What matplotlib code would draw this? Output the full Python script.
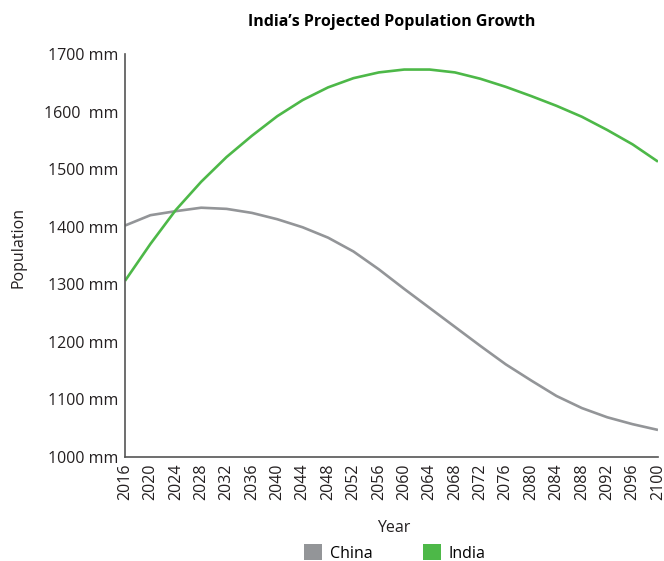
import matplotlib
matplotlib.use("Agg")
import matplotlib.pyplot as plt
from matplotlib.patches import Patch

plt.rcParams['font.family'] = ['Open Sans', 'DejaVu Sans']

years = [2016, 2020, 2024, 2028, 2032, 2036, 2040, 2044, 2048, 2052, 2056,
         2060, 2064, 2068, 2072, 2076, 2080, 2084, 2088, 2092, 2096, 2100]
china = [1402, 1420, 1427, 1433, 1431, 1424, 1413, 1399, 1381, 1357, 1326,
         1292, 1259, 1226, 1193, 1161, 1133, 1106, 1085, 1069, 1057, 1047]
india = [1306, 1370, 1429, 1478, 1521, 1558, 1592, 1620, 1642, 1658, 1668,
         1673, 1673, 1668, 1657, 1643, 1627, 1610, 1591, 1568, 1543, 1513]
ytick_vals = [1000, 1100, 1200, 1300, 1400, 1500, 1600, 1700]
ytick_labels = ['1000 mm', '1100 mm', '1200 mm', '1300 mm', '1400 mm',
                '1500 mm', '1600  mm', '1700 mm']

c_china = '#939598'
c_india = '#4DB848'
c_text = '#231f20'

fig = plt.figure(figsize=(6.64, 5.61), dpi=100)
ax = fig.add_axes([125/664, 1 - 457/561, (658-125)/664, (457-54)/561])

ax.plot(years, china, color=c_china, lw=1.9, solid_capstyle='butt')
ax.plot(years, india, color=c_india, lw=1.9, solid_capstyle='butt')

ax.set_xlim(2016, 2100)
ax.set_ylim(1000, 1700)
ax.set_xticks(years)
ax.set_xticklabels([str(y) for y in years], rotation=90, fontsize=11.5, color=c_text)
ax.set_yticks(ytick_vals)
ax.set_yticklabels(ytick_labels, fontsize=11.5, color=c_text)
ax.tick_params(length=0, pad=5)
for s in ['top', 'right']:
    ax.spines[s].set_visible(False)
for s in ['left', 'bottom']:
    ax.spines[s].set_color('#555555')
    ax.spines[s].set_linewidth(1.2)

fig.text(392/664, 1 - 22/561, "India\u2019s Projected Population Growth",
         fontsize=11.5, fontweight='bold', color='#000000', ha='center', va='center')
fig.text(18/664, 1 - 247/561, 'Population', rotation=90, fontsize=11.5,
         ha='center', va='center', color=c_text)
fig.text(394/664, 1 - 528/561, 'Year', fontsize=11.5, ha='center', va='center',
         color=c_text)

handles = [Patch(facecolor=c_china, label='China'),
           Patch(facecolor=c_india, label='India')]
fig.legend(handles=handles, loc='center', bbox_to_anchor=(395/664, 1 - 553/561),
           ncol=2, frameon=False, fontsize=11.5, handlelength=1.1,
           handleheight=1.1, columnspacing=3.2, handletextpad=0.5)

fig.savefig('out.png', dpi=100)
